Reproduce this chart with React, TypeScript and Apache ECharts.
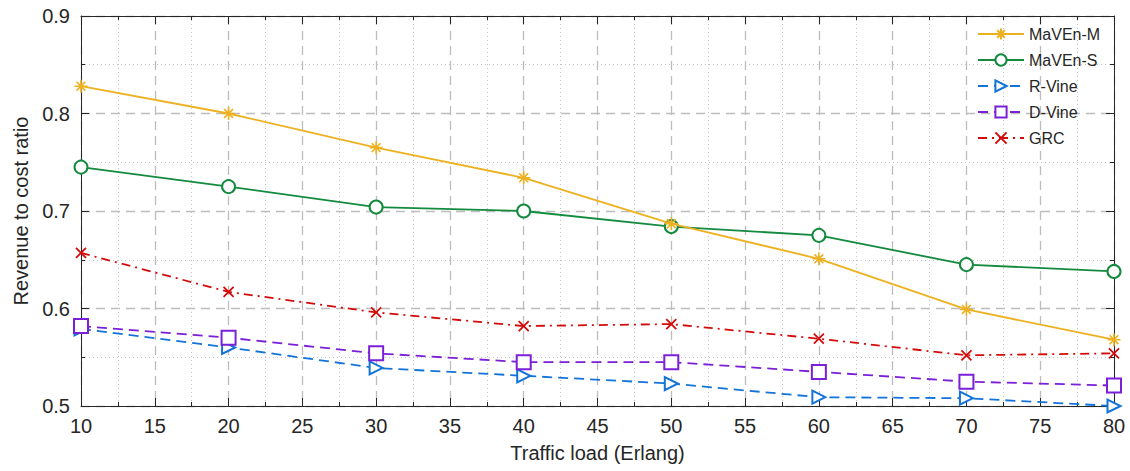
import React, { useEffect, useRef } from "react";
import * as echarts from "echarts";

// Traffic load (Erlang)
const loads = [10, 20, 30, 40, 50, 60, 70, 80];

// Revenue to cost ratio per algorithm
const mavenM = [0.828, 0.8, 0.765, 0.734, 0.687, 0.651, 0.599, 0.568];
const mavenS = [0.745, 0.725, 0.704, 0.7, 0.684, 0.675, 0.645, 0.638];
const rVine = [0.579, 0.56, 0.539, 0.531, 0.523, 0.509, 0.508, 0.5];
const dVine = [0.582, 0.57, 0.554, 0.545, 0.545, 0.535, 0.525, 0.521];
const grc = [0.657, 0.617, 0.596, 0.582, 0.584, 0.569, 0.552, 0.554];

const seriesNames = ["MaVEn-M", "MaVEn-S", "R-Vine", "D-Vine", "GRC"];

const FONT = "'Liberation Sans', Arial, Helvetica, sans-serif";
const INK = "#262626";

const ASTERISK = "path://M0 5 L10 5 M5 0 L5 10 M1.6 1.6 L8.4 8.4 M8.4 1.6 L1.6 8.4";
const CROSS = "path://M0 0 L10 10 M10 0 L0 10";

const pairs = (vals: number[]) => loads.map((x, i) => [x, vals[i]]);

export default function App() {
  const ref = useRef<HTMLDivElement>(null);

  useEffect(() => {
    if (!ref.current) return;
    const chart = echarts.init(ref.current, undefined, { renderer: "svg" });

    const boxAxisCommon = {
      axisLine: { show: true, lineStyle: { color: INK, width: 1 } },
      axisTick: { show: true, inside: true, length: 8, lineStyle: { color: INK } },
      minorTick: { show: true, splitNumber: 2, length: 4, lineStyle: { color: INK } },
    };

    chart.setOption({
      animation: false,
      backgroundColor: "#ffffff",
      grid: { left: 81, right: 16, top: 16, bottom: 65, containLabel: false },
      legend: {
        orient: "vertical",
        left: 972,
        top: 21,
        itemWidth: 46,
        itemHeight: 14,
        itemGap: 10,
        data: seriesNames,
        textStyle: { fontFamily: FONT, fontSize: 16, color: INK },
      },
      xAxis: [
        {
          type: "value",
          min: 10,
          max: 80,
          interval: 5,
          name: "Traffic load (Erlang)",
          nameLocation: "middle",
          nameGap: 37,
          nameTextStyle: { fontFamily: FONT, fontSize: 20, color: INK },
          axisLabel: { fontFamily: FONT, fontSize: 20, color: INK, margin: 10 },
          ...boxAxisCommon,
          splitLine: {
            show: true,
            lineStyle: { color: "#bdbdbd", width: 1.3, type: [9, 6] },
          },
          minorSplitLine: {
            show: true,
            lineStyle: { color: "#c2c2c2", width: 1, type: [1, 3] },
          },
        },
        {
          type: "value",
          position: "top",
          min: 10,
          max: 80,
          interval: 5,
          axisLabel: { show: false },
          splitLine: { show: false },
          ...boxAxisCommon,
        },
      ],
      yAxis: [
        {
          type: "value",
          min: 0.5,
          max: 0.9,
          interval: 0.1,
          name: "Revenue to cost ratio",
          nameLocation: "middle",
          nameGap: 48,
          nameTextStyle: { fontFamily: FONT, fontSize: 20, color: INK },
          axisLabel: {
            fontFamily: FONT,
            fontSize: 20,
            color: INK,
            margin: 11,
            formatter: (v: number) => v.toFixed(1),
          },
          ...boxAxisCommon,
          splitLine: {
            show: true,
            lineStyle: { color: "#bdbdbd", width: 1.3, type: [9, 6] },
          },
          minorSplitLine: {
            show: true,
            lineStyle: { color: "#c2c2c2", width: 1, type: [1, 3] },
          },
        },
        {
          type: "value",
          position: "right",
          min: 0.5,
          max: 0.9,
          interval: 0.1,
          axisLabel: { show: false },
          splitLine: { show: false },
          ...boxAxisCommon,
        },
      ],
      series: [
        {
          name: "MaVEn-M",
          type: "line",
          data: pairs(mavenM),
          symbol: ASTERISK,
          symbolSize: 13,
          lineStyle: { color: "#EDB120", width: 1.8, type: "solid" },
          itemStyle: { color: "#EDB120", borderColor: "#EDB120", borderWidth: 1.6 },
          z: 6,
        },
        {
          name: "MaVEn-S",
          type: "line",
          data: pairs(mavenS),
          symbol: "emptyCircle",
          symbolSize: 13,
          lineStyle: { color: "#138A3E", width: 1.8, type: "solid" },
          itemStyle: { color: "#138A3E", borderColor: "#138A3E", borderWidth: 1.8 },
          z: 5,
        },
        {
          name: "R-Vine",
          type: "line",
          data: pairs(rVine),
          symbol: "emptyTriangle",
          symbolRotate: -90,
          symbolSize: 13,
          lineStyle: { color: "#1373D9", width: 1.8, type: [10, 6] },
          itemStyle: { color: "#1373D9", borderColor: "#1373D9", borderWidth: 1.8 },
          z: 4,
        },
        {
          name: "D-Vine",
          type: "line",
          data: pairs(dVine),
          symbol: "emptyRect",
          symbolSize: 14,
          lineStyle: { color: "#7B1FD8", width: 1.8, type: [10, 6] },
          itemStyle: { color: "#7B1FD8", borderColor: "#7B1FD8", borderWidth: 1.8 },
          z: 4,
        },
        {
          name: "GRC",
          type: "line",
          data: pairs(grc),
          symbol: CROSS,
          symbolSize: 10,
          lineStyle: { color: "#D40B0B", width: 1.8, type: [9, 5, 2, 5] },
          itemStyle: { color: "#D40B0B", borderColor: "#D40B0B", borderWidth: 1.8 },
          z: 4,
        },
      ],
    });

    return () => chart.dispose();
  }, []);

  return (
    <div
      ref={ref}
      style={{ position: "fixed", left: 0, top: 0, width: 1130, height: 471, background: "#fff" }}
    />
  );
}
